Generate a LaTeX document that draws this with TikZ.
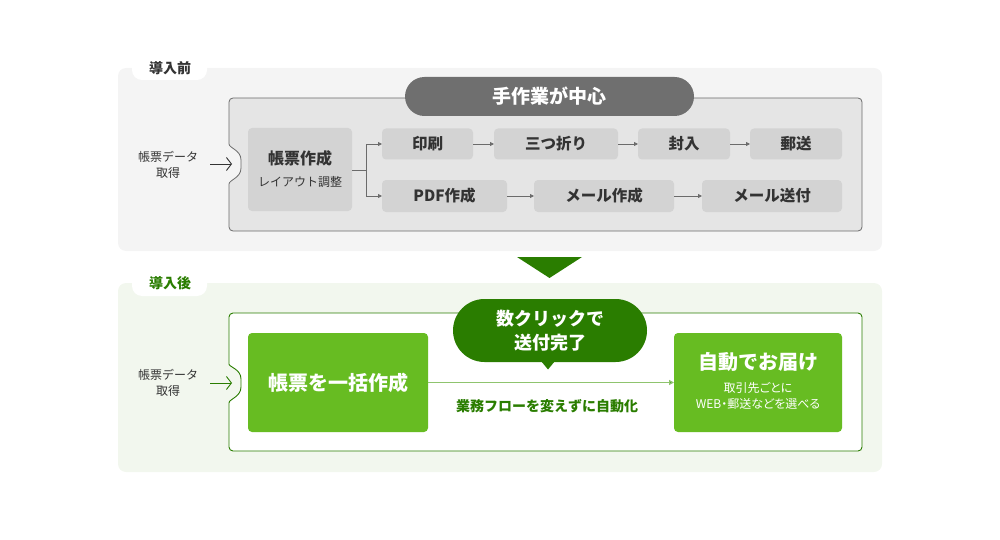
\documentclass[tikz,border=0pt]{standalone}
\usepackage{fontspec}
\setmainfont{Noto Sans CJK JP}
\usetikzlibrary{arrows.meta}
\definecolor{panelgray}{HTML}{F4F4F4}
\definecolor{innergray}{HTML}{E5E5E5}
\definecolor{bordergray}{HTML}{6B6B6B}
\definecolor{boxgray}{HTML}{D3D3D3}
\definecolor{txt}{HTML}{333333}
\definecolor{pillgray}{HTML}{6F6F6F}
\definecolor{panelgreen}{HTML}{F2F7EE}
\definecolor{darkgreen}{HTML}{2A7D00}
\definecolor{lime}{HTML}{67BC22}
\definecolor{lightgreen}{HTML}{8FC46E}
\tikzset{
  every node/.style={inner sep=0pt, outer sep=0pt, align=center},
  gbox/.style={fill=boxgray, rounded corners=4pt, text=txt, font=\bfseries\fontsize{15.5}{18}\selectfont},
  lbox/.style={fill=lime, rounded corners=4pt, text=white},
  flow/.style={draw=bordergray, line width=0.8pt, -{Triangle[length=4pt,width=4pt]}},
  tab/.style={fill=white, rounded corners=10pt},
  sidelabel/.style={text=txt, font=\fontsize{12}{16}\selectfont},
  inarrow/.style={line width=0.9pt, -{Straight Barb[length=5pt,width=13pt]}}
}
\begin{document}
\begin{tikzpicture}[x=1pt,y=-1pt]
\useasboundingbox (0,0) rectangle (1000,540);
% ---------- top panel ----------
\fill[panelgray, rounded corners=8pt] (118,68) rectangle (882,251);
\fill[tab] (132,57) rectangle (207,80);
\node[text=txt, font=\bfseries\fontsize{14}{16}\selectfont] (tabbefore) at (170,68) {導入前};
\filldraw[fill=innergray, draw=bordergray, line width=0.8pt, rounded corners=4pt]
  (229,140) -- (229,98) -- (862,98) -- (862,231) -- (229,231) -- (229,188)
  .. controls (229,180) and (241,178) .. (241,164)
  .. controls (241,150) and (229,148) .. (229,140) -- cycle;
\node[fill=pillgray, rounded corners=19.5pt, minimum width=289pt, minimum height=39pt, text=white, font=\bfseries\fontsize{19}{22}\selectfont] (manual) at (549.5,96.5) {手作業が中心};
\node[sidelabel] (srcA) at (168,165) {帳票データ\\取得};
\coordinate (inA) at (232,164);
\draw[inarrow, draw=txt] (210,164) -- (inA);
\node[gbox, minimum width=104pt, minimum height=83pt] (make) at (300,169.5) {};
\node[text=txt, font=\bfseries\fontsize{16}{19}\selectfont] (makeT) at (300,158) {帳票作成};
\node[text=txt, font=\fontsize{12}{14}\selectfont] (makeS) at (300,182) {レイアウト調整};
\node[gbox, minimum width=91pt, minimum height=31pt] (print) at (427.5,144) {印刷};
\node[gbox, minimum width=124pt, minimum height=31pt] (fold) at (556,144) {三つ折り};
\node[gbox, minimum width=92pt, minimum height=31pt] (enclose) at (684,144) {封入};
\node[gbox, minimum width=92pt, minimum height=31pt] (mail) at (796,144) {郵送};
\node[gbox, minimum width=125pt, minimum height=32pt] (pdf) at (444.5,196) {PDF作成};
\node[gbox, minimum width=140pt, minimum height=32pt] (mailmake) at (604,196) {メール作成};
\node[gbox, minimum width=140pt, minimum height=32pt] (mailsend) at (772,196) {メール送付};
\coordinate (split) at (366,170);
\draw[draw=bordergray, line width=0.8pt] (make.east |- split) -- (split);
\draw[flow] (split) |- (print.west);
\draw[flow] (split) |- (pdf.west);
\draw[flow] (print) -- (fold);
\draw[flow] (fold) -- (enclose);
\draw[flow] (enclose) -- (mail);
\draw[flow] (pdf) -- (mailmake);
\draw[flow] (mailmake) -- (mailsend);
% ---------- down arrow ----------
\fill[darkgreen] (517,257) -- (582,257) -- (549.5,278) -- cycle;
% ---------- bottom panel ----------
\fill[panelgreen, rounded corners=8pt] (118,283) rectangle (882,472);
\fill[tab] (132,272) rectangle (207,296);
\node[text=darkgreen, font=\bfseries\fontsize{14}{16}\selectfont] (tabafter) at (170,283) {導入後};
\filldraw[fill=white, draw=darkgreen, line width=0.9pt, rounded corners=4pt]
  (229,360) -- (229,313) -- (862,313) -- (862,451) -- (229,451) -- (229,407)
  .. controls (229,399) and (241,397) .. (241,383)
  .. controls (241,369) and (229,367) .. (229,360) -- cycle;
\node[sidelabel] (srcB) at (168,383) {帳票データ\\取得};
\coordinate (inB) at (232,383);
\draw[inarrow, draw=darkgreen] (210,383) -- (inB);
\node[lbox, minimum width=180pt, minimum height=99pt, font=\bfseries\fontsize{20}{23}\selectfont] (bulk) at (338,382.5) {帳票を一括作成};
\node[lbox, minimum width=168pt, minimum height=99pt] (auto) at (758,382.5) {};
\node[text=white, font=\bfseries\fontsize{20}{23}\selectfont] (autoT) at (758,362) {自動でお届け};
\node[text=white, font=\fontsize{12}{16}\selectfont\addfontfeatures{RawFeature=+palt}] (autoS) at (758,396) {取引先ごとに\\WEB・郵送などを選べる};
\draw[lightgreen, line width=1.2pt, -{Triangle[length=5pt,width=5pt,fill=darkgreen]}] (bulk.east) -- (auto.west);
\node[text=darkgreen, font=\bfseries\fontsize{14}{16}\selectfont] (flowlabel) at (547,406) {業務フローを変えずに自動化};
\fill[darkgreen] (541,361) -- (555,361) -- (548,369.5) -- cycle;
\node[fill=darkgreen, rounded corners=31.5pt, minimum width=194pt, minimum height=63pt, text=white, font=\bfseries\fontsize{18}{24}\selectfont] (click) at (550,330.5) {数クリックで\\送付完了};
\end{tikzpicture}
\end{document}
